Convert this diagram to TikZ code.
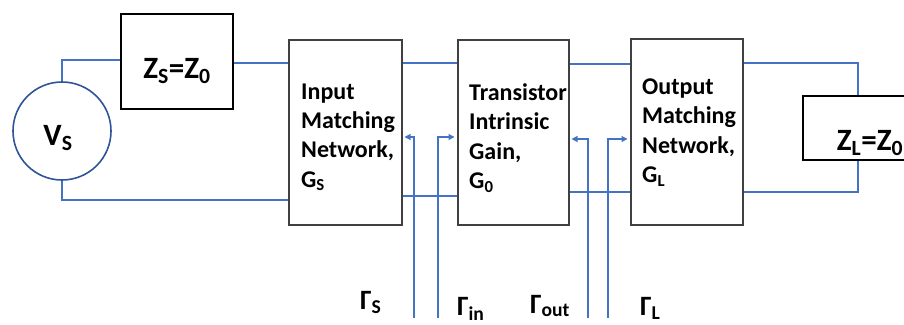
\documentclass[tikz,border=0pt]{standalone}
\usepackage{fontspec}
\setmainfont{Carlito}
\usetikzlibrary{arrows.meta}
\definecolor{wireblue}{HTML}{4472C4}
\definecolor{srcblue}{HTML}{2F5597}
\definecolor{boxgray}{HTML}{404040}
\begin{document}
\begin{tikzpicture}[x=1pt,y=-1pt,
  netbox/.style={draw=boxgray,line width=2pt,inner sep=0pt},
  nettext/.style={inner sep=0pt,align=left,font=\bfseries\fontsize{24}{29.3}\selectfont},
  zbox/.style={draw=black,line width=2pt,inner sep=0pt,font=\bfseries\fontsize{31}{36}\selectfont},
  wire/.style={draw=wireblue,line width=1.6pt},
  sig/.style={draw=wireblue,line width=1.1pt,-{Triangle[length=6pt,width=6pt]}},
  gam/.style={inner sep=0pt,anchor=base west,font=\bfseries\fontsize{28}{32}\selectfont}
]
\useasboundingbox (0,0) rectangle (904,324);

% rails
\coordinate (railL) at (0,60);
\coordinate (railA) at (0,63);
\coordinate (railB) at (0,64);
\coordinate (botL) at (0,200);
\coordinate (bot1) at (0,196);
\coordinate (bot2) at (0,192);
\coordinate (zlx) at (858,0);

% source
\node[circle,draw=srcblue,line width=1.6pt,minimum size=98pt,inner sep=0pt,
      text height=32pt,text depth=4pt,font=\bfseries\fontsize{31}{36}\selectfont]
      (vs) at (62,131) {V\textsubscript{S}\kern8pt};

% impedance boxes
\node[zbox,minimum width=112pt,minimum height=95pt,text height=37pt,text depth=4pt]
      (zs) at (177,61.5) {Z\textsubscript{S}=Z\textsubscript{0}};
\node[zbox,minimum width=134pt,minimum height=64pt,text height=48pt,text depth=4pt]
      (zl) at (870,128) {Z\textsubscript{L}=Z\textsubscript{0}};

% network boxes
\node[netbox,minimum width=113pt,minimum height=185pt] (inb) at (345.5,132.5) {};
\node[netbox,minimum width=111pt,minimum height=185pt] (trb) at (513.5,132.5) {};
\node[netbox,minimum width=112pt,minimum height=186pt] (outb) at (687,132) {};

\node[nettext,anchor=north west] (intxt) at (301,83.5) {Input\\Matching\\Network,\\G\textsubscript{S}};
\node[nettext,anchor=north west] (trtxt) at (469,83.5) {Transistor\\Intrinsic\\Gain,\\G\textsubscript{0}};
\node[nettext,anchor=north west] (outtxt) at (642,78.5) {Output\\Matching\\Network,\\G\textsubscript{L}};

% wires
\draw[wire] (vs.north) |- (zs.west |- railL);
\draw[wire] (zs.east |- railA) -- (inb.west |- railA);
\draw[wire] (vs.south) |- (inb.west |- botL);
\draw[wire] (inb.east |- railA) -- (trb.west |- railA);
\draw[wire] (inb.east |- bot1) -- (trb.west |- bot1);
\draw[wire] (trb.east |- railB) -- (outb.west |- railB);
\draw[wire] (trb.east |- bot2) -- (outb.west |- bot2);
\draw[wire] (outb.east |- railA) -| (zlx |- zl.north);
\draw[wire] (outb.east |- bot2) -| (zlx |- zl.south);

% reflection arrows
\coordinate (s1) at (414,318);
\coordinate (s2) at (438,318);
\coordinate (s3) at (588,318);
\coordinate (s4) at (608,318);
\coordinate (h1) at (0,137);
\coordinate (h2) at (0,139);
\draw[sig,shorten >=1.5pt] (s1) |- (inb.east |- h1);
\draw[sig,shorten >=2.5pt] (s2) |- (trb.west |- h1);
\draw[sig,shorten >=1.5pt] (s3) |- (trb.east |- h2);
\draw[sig,shorten >=2.5pt] (s4) |- (outb.west |- h2);

% labels
\node[gam] (gs) at (360,309) {Γ\textsubscript{S}};
\node[gam] (gin) at (457,315) {Γ\textsubscript{in}};
\node[gam] (gout) at (530,313) {Γ\textsubscript{out}};
\node[gam] (gl) at (640,315) {Γ\textsubscript{L}};
\end{tikzpicture}
\end{document}
